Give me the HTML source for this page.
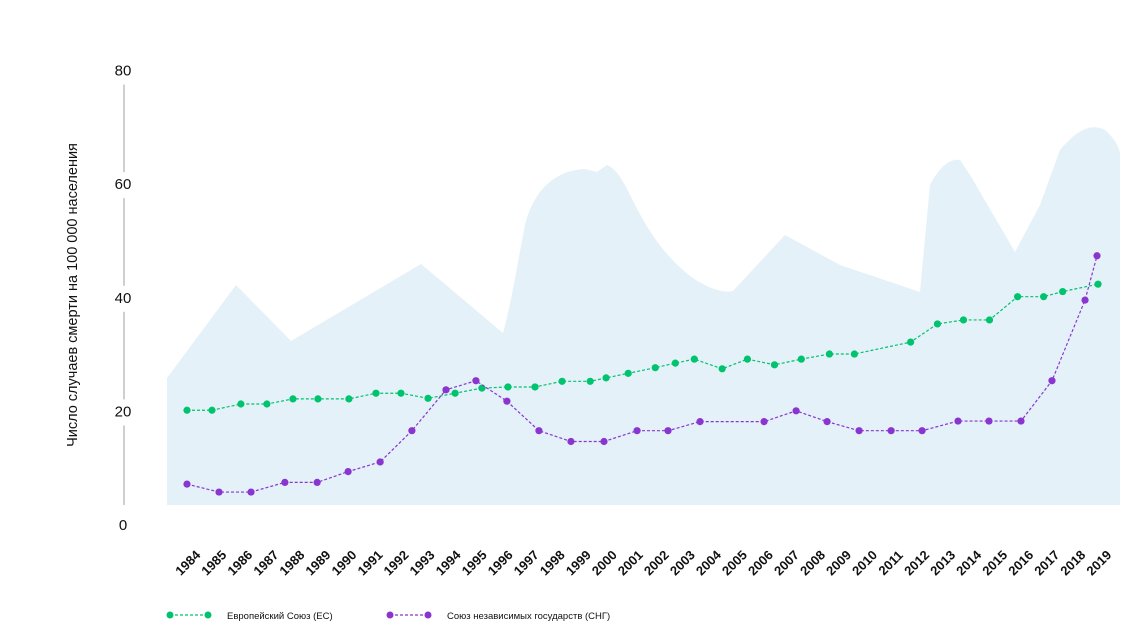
<!DOCTYPE html>
<html><head><meta charset="utf-8"><style>
body{margin:0;background:#fff;width:1148px;height:627px;overflow:hidden;font-family:"Liberation Sans",sans-serif}
svg text{font-family:"Liberation Sans",sans-serif;fill:#111}
</style></head><body>
<svg id="chart" width="1148" height="627" viewBox="0 0 1148 627">
<path fill="#e4f1f8" d="M167,378 L236,285 L291,341 L421,264 L503,333 C512,300 518,260 525,225 C535,185 560,170 585,169 L597,172 L607,165 C615,168 622,178 630,195 C645,225 660,252 690,276 C710,290 725,293 733,291 L785,235 L840,265 L920,292 L930,185 C938,170 948,158 960,160 L970,175 L1015,252 L1040,205 L1060,150 C1075,132 1090,122 1105,130 C1112,136 1117,143 1120,152 L1120,505 L167,505 Z"/>
<g id="yaxis"></g>
<text transform="translate(77,295) rotate(-90)" text-anchor="middle" font-size="14.5">Число случаев смерти на 100 000 населения</text>
<g id="xaxis"></g>
<g id="series"></g>
<g>
<g>
<line x1="170" y1="615" x2="208" y2="615" stroke="#00c36e" stroke-width="1.2" stroke-dasharray="3,2"/>
<circle cx="170" cy="615" r="3.5" fill="#00c36e"/><circle cx="208" cy="615" r="3.5" fill="#00c36e"/>
<text x="227" y="619" font-size="9.5">Европейский Союз (ЕС)</text></g>
<g>
<line x1="390" y1="615" x2="428" y2="615" stroke="#8a35cf" stroke-width="1.2" stroke-dasharray="3,2"/>
<circle cx="390" cy="615" r="3.5" fill="#8a35cf"/><circle cx="428" cy="615" r="3.5" fill="#8a35cf"/>
<text x="447" y="619" font-size="9.5">Союз независимых государств (СНГ)</text></g>
</g>
</svg>
<script>
const years=[1984,1985,1986,1987,1988,1989,1990,1991,1992,1993,1994,1995,1996,1997,1998,1999,2000,2001,2002,2003,2004,2005,2006,2007,2008,2009,2010,2011,2012,2013,2014,2015,2016,2017,2018,2019];
const yTicks=[0,20,40,60,80];
const euX=[1984,1984.96,1986.07,1987.07,1988.07,1989.03,1990.22,1991.26,1992.22,1993.26,1994.3,1995.33,1996.33,1997.37,1998.41,1999.49,2000.1,2000.95,2001.99,2002.76,2003.49,2004.56,2005.53,2006.57,2007.6,2008.68,2009.64,2011.8,2012.83,2013.83,2014.83,2015.91,2016.91,2017.64,2019];
const euVals=[20.2,20.2,21.3,21.3,22.2,22.2,22.2,23.2,23.2,22.3,23.2,24.1,24.3,24.3,25.3,25.3,25.9,26.7,27.7,28.5,29.2,27.5,29.2,28.2,29.2,30.1,30.1,32.2,35.4,36.1,36.1,40.2,40.2,41.1,42.4];
const cisX=[1984,1985.23,1986.46,1987.76,1989.0,1990.19,1991.42,1992.64,1993.95,1995.1,1996.29,1997.52,1998.75,2000.02,2001.29,2002.48,2003.71,2006.17,2007.4,2008.59,2009.82,2011.05,2012.24,2013.62,2014.81,2016.04,2017.23,2018.5,2018.96];
const cisVals=[7.2,5.8,5.8,7.5,7.5,9.4,11.1,16.6,23.8,25.4,21.8,16.6,14.7,14.7,16.6,16.6,18.2,18.2,20.1,18.2,16.6,16.6,16.6,18.3,18.3,18.3,25.4,39.6,47.4];
const NS="http://www.w3.org/2000/svg";
const xs=y=>187+(y-1984)*26.03;
const ys=v=>525-v*5.68;
function mk(t,a,p){const e=document.createElementNS(NS,t);for(const k in a)e.setAttribute(k,a[k]);p.appendChild(e);return e;}
const ya=document.getElementById('yaxis');
yTicks.forEach((t,i)=>{
  const tx=mk('text',{x:123,y:ys(t)+5,'text-anchor':'middle','font-size':15},ya);
  tx.textContent=t;
  
  
  if(i<yTicks.length-1){
    const l=mk('line',{x1:124,x2:124,y1:Math.min(ys(t)-12,505),y2:ys(yTicks[i+1])+14,stroke:'#cfcfcf','stroke-width':2},ya);
    
    
  }
});
const xa=document.getElementById('xaxis');
years.forEach(y=>{
  const tx=mk('text',{transform:`translate(${xs(y)+4},${566}) rotate(-45)`,'text-anchor':'middle','font-size':13,'font-weight':'bold'},xa);
  tx.textContent=y;
  
  
});
const sg=document.getElementById('series');
function series(xv,vals,color,name){
  const g=mk('g',{},sg);
  
  
  const pts=xv.map((x,i)=>xs(x)+','+ys(vals[i])).join(' ');
  const pl=mk('polyline',{points:pts,fill:'none',stroke:color,'stroke-width':1.2,'stroke-dasharray':'3,2'},g);
  
  
  xv.forEach((x,i)=>{
    const c=mk('circle',{cx:xs(x),cy:ys(vals[i]),r:3.6,fill:color},g);
    
    
  });
}
series(euX,euVals,'#00c36e','eu-series');
series(cisX,cisVals,'#8a35cf','cis-series');
</script>
</body></html>
